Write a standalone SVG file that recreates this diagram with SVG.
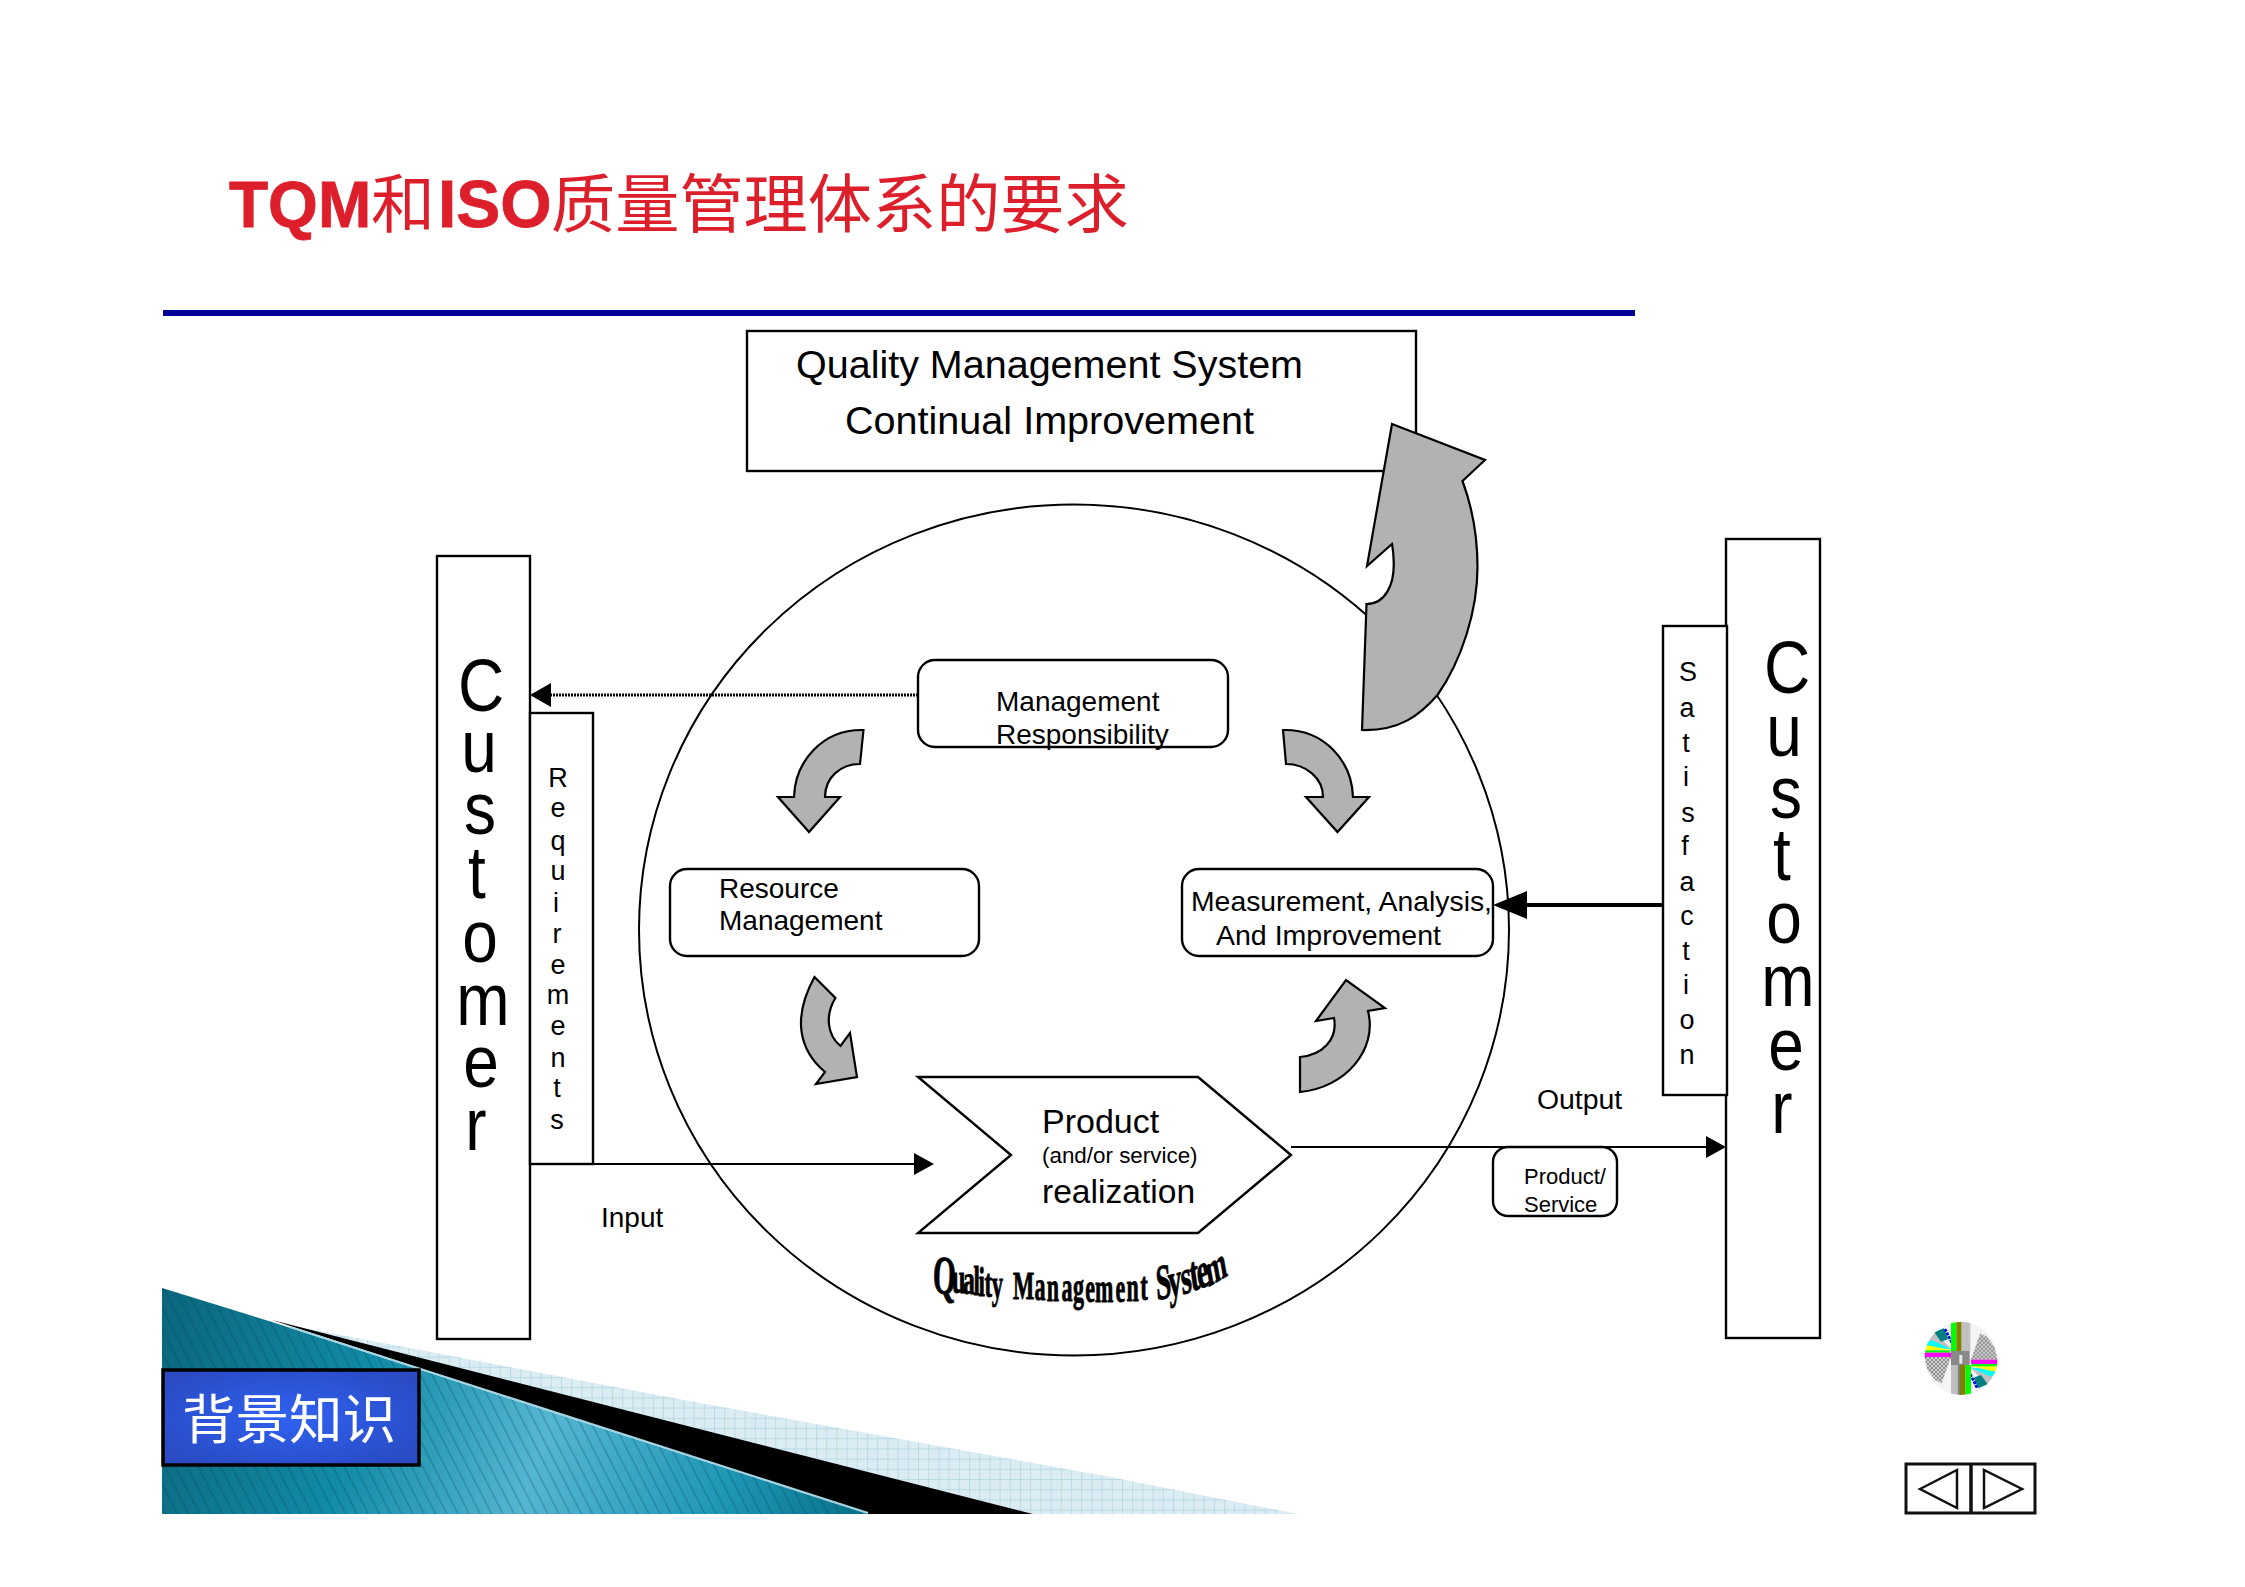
<svg xmlns="http://www.w3.org/2000/svg" width="2245" height="1587" viewBox="0 0 2245 1587">
<style>
.box{fill:#fff;stroke:#000;stroke-width:2.4}
.gray{fill:#b2b2b2;stroke:#000;stroke-width:2.2;stroke-linejoin:miter}
.t{font-family:"Liberation Sans",Arial,sans-serif;fill:#000}
.cjk{font-family:"Noto Sans CJK SC",sans-serif}
.cust{font-size:64px;text-anchor:middle}
.vert{font-size:27px;text-anchor:middle}
.lbl{font-size:28px}
.line{fill:none;stroke:#000;stroke-width:2}
.head{fill:#000;stroke:none}
.red{fill:#dd1f2b;stroke:#dd1f2b;stroke-width:.8;font-weight:700}
</style>
<defs>
<linearGradient id="teal" gradientUnits="userSpaceOnUse" x1="162" y1="1290" x2="870" y2="1514">
<stop offset="0" stop-color="#0b667c"/><stop offset=".3" stop-color="#118ba6"/><stop offset=".55" stop-color="#55b6d2"/><stop offset=".8" stop-color="#1f98b6"/><stop offset="1" stop-color="#066f88"/>
</linearGradient>
<pattern id="hatch" width="10" height="10" patternUnits="userSpaceOnUse" patternTransform="rotate(-27)"><rect x="0" y="0" width="1.4" height="10" fill="#003a4c" fill-opacity=".28"/></pattern>
<pattern id="grid" width="10.2" height="10.2" patternUnits="userSpaceOnUse"><rect width="10.2" height="10.2" fill="#dcecf3"/><rect width="1" height="10.2" fill="#b8dbe6"/><rect width="10.2" height="1" fill="#b8dbe6"/></pattern>
<radialGradient id="blue" cx=".5" cy=".5" r=".6"><stop offset="0" stop-color="#2f62f2"/><stop offset="1" stop-color="#2a4bc4"/></radialGradient>
<pattern id="chk" width="12" height="12" patternUnits="userSpaceOnUse"><rect width="12" height="12" fill="#d0d0d0"/><rect width="6" height="6" fill="#8f8f8f"/><rect x="6" y="6" width="6" height="6" fill="#8f8f8f"/></pattern>
<clipPath id="discClip"><circle cx="138" cy="130" r="110"/></clipPath>
<g id="discHalf">
<polygon points="28,126 108,126 96,160 80,205 60,195 38,165" fill="url(#chk)"/>
<polygon points="40,75 60,50 112,105 50,90" fill="#c0c0c0"/>
<polygon points="58,52 86,40 100,72 78,80" fill="#008080"/>
<line x1="90" y1="42" x2="122" y2="106" stroke="#0000e0" stroke-width="8" stroke-dasharray="9 3"/>
<polygon points="36,80 50,76 108,102 36,98" fill="#00ffff"/>
<polygon points="30,92 46,92 108,106 30,106" fill="#ffff00"/>
<rect x="28" y="106" width="78" height="7" fill="#00ff00"/>
<rect x="28" y="113" width="80" height="13" fill="#ff00ff"/>
<rect x="28" y="113" width="80" height="13" fill="none" stroke="#888" stroke-width="1.5" stroke-dasharray="2 8"/>
</g>
</defs>
<rect width="2245" height="1587" fill="#fff"/>

<g id="title">
<text y="227" font-size="64" fill="#dd1f2b"><tspan x="229" class="t red">TQM</tspan><tspan x="371" class="cjk">和</tspan><tspan x="438" class="t red" font-size="66">ISO</tspan><tspan x="551" class="cjk" font-size="64.2">质量管理体系的要求</tspan></text>
<rect x="163" y="310" width="1472" height="6" fill="#000097"/>
</g>

<g id="decoration">
<polygon points="162,1288 272,1322 700,1403 1100,1475 1298,1514 1033,1514 272,1322" fill="url(#grid)"/>
<polygon points="272,1320 1033,1514 868,1514" fill="#000"/>
<polygon points="162,1288 272,1322 868,1514 162,1514" fill="url(#teal)"/>
<polygon points="162,1288 272,1322 868,1514 162,1514" fill="url(#hatch)"/>
<line x1="290" y1="1327" x2="868" y2="1513" stroke="#a5d5e2" stroke-width="2"/>
</g>

<g id="system-circle"><ellipse cx="1074" cy="930" rx="435" ry="425.5" fill="none" stroke="#000" stroke-width="2"/></g>

<g id="qms-box">
<rect class="box" x="747" y="331" width="669" height="140"/>
<text class="t" font-size="38" x="796" y="378" textLength="507" lengthAdjust="spacingAndGlyphs">Quality Management System</text>
<text class="t" font-size="38" x="845" y="434" textLength="409" lengthAdjust="spacingAndGlyphs">Continual Improvement</text>
</g>

<g id="customer-left">
<rect class="box" x="437" y="556" width="93" height="783"/>
<text class="t cust" transform="scale(1,1.16)" x="481 479 480 477 480 483 481 476" y="613.3 665.2 719.3 774.1 829.6 883.9 937 991.5">Customer</text>
</g>
<g id="requirements">
<rect class="box" x="530" y="713" width="63" height="451"/>
<text class="t vert" x="558 558 558 558 556 557 558 558 558 558 557 557" y="787 817 850 880 912 943 974 1004 1035 1067 1097 1129">Requirements</text>
</g>
<g id="customer-right">
<rect class="box" x="1726" y="539" width="94" height="799"/>
<text class="t cust" transform="scale(1,1.16)" x="1787 1784 1786 1782 1784 1788 1786 1782" y="597.8 652.1 705.1 759 812.8 867.2 922.8 977">Customer</text>
</g>
<g id="satisfaction">
<rect class="box" x="1663" y="626" width="64" height="469"/>
<text class="t vert" x="1688 1687 1686 1686 1688 1685 1687 1687 1686 1686 1687 1687" y="681 717 752 786 822 855 891 925 960 994 1029 1064">Satisfaction</text>
</g>

<g id="management">
<rect class="box" x="918" y="660" width="310" height="87" rx="17"/>
<text class="t lbl" x="996" y="711">Management</text>
<text class="t lbl" x="996" y="744">Responsibility</text>
</g>
<g id="resource">
<rect class="box" x="670" y="869" width="309" height="87" rx="17"/>
<text class="t lbl" x="719" y="898">Resource</text>
<text class="t lbl" x="719" y="930">Management</text>
</g>
<g id="measurement">
<rect class="box" x="1182" y="869" width="311" height="87" rx="17"/>
<text class="t lbl" x="1191" y="911" textLength="301" lengthAdjust="spacingAndGlyphs">Measurement, Analysis,</text>
<text class="t lbl" x="1216" y="945" textLength="225" lengthAdjust="spacingAndGlyphs">And Improvement</text>
</g>
<g id="product">
<polygon class="box" points="918,1077 1198,1077 1291,1155 1198,1233 918,1233 1011,1155"/>
<text class="t" font-size="34" x="1042" y="1133">Product</text>
<text class="t" font-size="22.4" x="1042" y="1163">(and/or service)</text>
<text class="t" font-size="33.6" x="1042" y="1203">realization</text>
</g>
<g id="product-service">
<rect class="box" x="1493" y="1147" width="124" height="69" rx="15"/>
<text class="t" font-size="22" x="1524" y="1184">Product/</text>
<text class="t" font-size="22" x="1524" y="1212">Service</text>
</g>

<g id="system-label">
<text font-family="'Liberation Serif',serif" font-weight="700" fill="#000" stroke="#000" stroke-width=".9" transform="scale(.55,1)"><tspan x="1695" y="1292" font-size="54" rotate="4">Q</tspan><tspan x="1731" y="1293" font-size="44">u</tspan><tspan x="1751" y="1294" font-size="43">a</tspan><tspan x="1770" y="1295" font-size="42">l</tspan><tspan x="1779" y="1296" font-size="42">i</tspan><tspan x="1790" y="1297" font-size="41">t</tspan><tspan x="1803" y="1298" font-size="41">y </tspan><tspan x="1842" y="1299" font-size="41">M</tspan><tspan x="1881" y="1300" font-size="40">a</tspan><tspan x="1903" y="1301" font-size="40">n</tspan><tspan x="1930" y="1301" font-size="40">a</tspan><tspan x="1951" y="1301" font-size="40">g</tspan><tspan x="1973" y="1302" font-size="40">e</tspan><tspan x="1991" y="1302" font-size="40">m</tspan><tspan x="2028" y="1302" font-size="40">e</tspan><tspan x="2048" y="1301" font-size="40">n</tspan><tspan x="2073" y="1300" font-size="41">t </tspan><tspan x="2103" y="1300" font-size="50" rotate="-6">S</tspan><tspan x="2126" y="1298" font-size="49" rotate="-8">y</tspan><tspan x="2150" y="1295" font-size="49" rotate="-12">s</tspan><tspan x="2167" y="1292" font-size="50" rotate="-14">t</tspan><tspan x="2180" y="1290" font-size="50" rotate="-16">e</tspan><tspan x="2197" y="1287" font-size="46" rotate="-18">m</tspan></text>
</g>

<g id="cycle-arrows">
<path id="arrow-mgmt-resource" class="gray" d="M863.5 730 L860 764 C840 764 825 778 825 797 L840 797 L809 832 L778 797 L794 797 C795 762 822 729 863.5 730 Z"/>
<path id="arrow-mgmt-measure" class="gray" d="M1283 730 L1286 764 C1306 764 1323 778 1323 797 L1306 797 L1337.5 832 L1369 797 L1353 797 C1352 762 1325 729 1283 730 Z"/>
<path id="arrow-resource-product" class="gray" d="M814.5 977 L835.4 998 C825 1015 827 1035 840.5 1046 L850 1033 L857 1077 L816 1084 L825 1072 C799 1050 792 1018 814.5 977 Z"/>
<path id="arrow-product-measure" class="gray" d="M1300 1092 L1300 1057 C1322 1055 1338 1040 1334 1018 L1316 1021 L1346 980 L1385 1008 L1368 1011 C1378 1050 1345 1088 1300 1092 Z"/>
<path id="arrow-improvement" class="gray" d="M1392 424 L1485 460 L1462.5 481 C1474 512 1477.5 540 1477.5 567 C1477.5 610 1462 660 1437.5 695 C1420 715 1400 731 1362 730 L1366.5 604 C1385 604 1395 585 1393.6 560 Q1393.6 553 1392 544 L1367 566 Z"/>
</g>

<g id="connectors">
<line x1="918" y1="695" x2="550" y2="695" stroke="#000" stroke-width="3.2" stroke-dasharray="2 1"/>
<polygon class="head" points="530,695 551,683 551,707"/>
<line class="line" x1="1663" y1="905" x2="1525" y2="905" style="stroke-width:4"/>
<polygon class="head" points="1493,905 1527,891 1527,919"/>
<line class="line" x1="593" y1="1164" x2="915" y2="1164"/>
<polygon class="head" points="934,1164 914,1153 914,1175"/>
<line class="line" x1="1291" y1="1147" x2="1708" y2="1147"/>
<polygon class="head" points="1726,1147 1706,1136 1706,1158"/>
</g>

<g id="flow-labels">
<text class="t" font-size="28" x="601" y="1227">Input</text>
<text class="t" font-size="28.4" x="1537" y="1109">Output</text>
</g>

<g id="background-tag">
<rect x="163" y="1370" width="256" height="95" fill="url(#blue)" stroke="#000" stroke-width="3.5"/>
<text class="cjk" font-size="53.5" fill="#fff" x="289" y="1439" text-anchor="middle">背景知识</text>
</g>

<g id="disc" transform="translate(1915 1315) scale(.3333)">
<g clip-path="url(#discClip)">
<circle cx="138" cy="130" r="110" fill="#f4f4f4"/>
<use href="#discHalf"/>
<use href="#discHalf" transform="rotate(180 138 130)"/>
<rect x="108" y="20" width="16" height="88" fill="#00ff00"/><rect x="124" y="20" width="16" height="88" fill="#808000"/><rect x="140" y="20" width="26" height="88" fill="#c0c0c0"/>
<rect x="108" y="150" width="20" height="95" fill="#c0c0c0"/><rect x="128" y="150" width="7" height="95" fill="#808080"/><rect x="135" y="150" width="17" height="95" fill="#808000"/><rect x="152" y="150" width="16" height="95" fill="#00ff00"/>
<rect x="108" y="108" width="56" height="42" fill="#888"/><rect x="133" y="120" width="9" height="26" fill="#e8e8e8"/>
</g>
</g>

<g id="nav-buttons" fill="none" stroke="#111">
<rect x="1906" y="1464" width="129" height="49" stroke-width="3"/>
<line x1="1971" y1="1464" x2="1971" y2="1513" stroke-width="3.5"/>
<polygon points="1920,1489 1957,1470 1957,1508" stroke-width="2.5"/>
<polygon points="1984,1470 1984,1508 2022,1489" stroke-width="2.5"/>
</g>
</svg>
